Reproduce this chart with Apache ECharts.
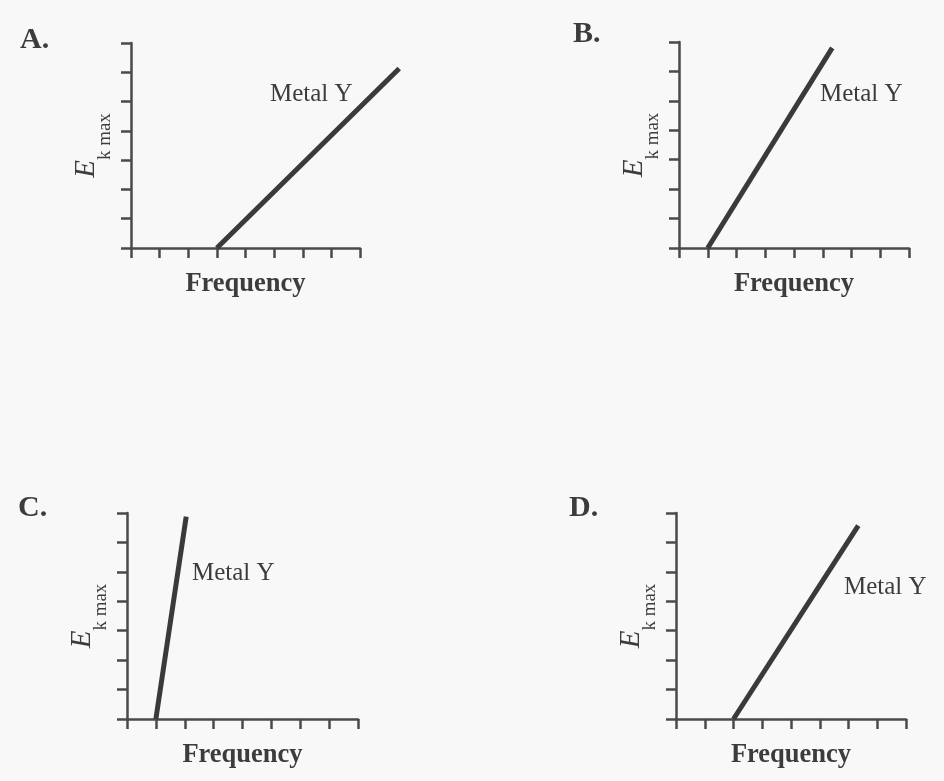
<!DOCTYPE html>
<html><head><meta charset="utf-8">
<script src="https://cdn.jsdelivr.net/npm/echarts@6/dist/echarts.min.js"></script>
<style>html,body{margin:0;padding:0;background:#f8f8f8}#c{width:944px;height:781px}</style>
</head><body><div id="c"></div>
<script>
// ---- data ----
const panelLabels = ['A.', 'B.', 'C.', 'D.'];
const seriesName = 'Metal Y';
const xAxisName = 'Frequency';
const yAxisMain = 'E';
const yAxisSub = 'k max';
const xMax = 8;   // 8 tick intervals on the frequency axis
const yMax = 7;   // 7 tick intervals on the E axis
// line end points: [frequency, Ek max]
const freqA = [3, 9.37], ekA = [0, 6.13];
const freqB = [1, 5.33], ekB = [0, 6.80];
const freqC = [1, 2.05], ekC = [0, 6.88];
const freqD = [2, 6.34], ekD = [0, 6.57];

const panelsFreq = [freqA, freqB, freqC, freqD];
const panelsEk = [ekA, ekB, ekC, ekD];

// ---- layout / style ----
const grids = [
  {left: 131, top: 43, width: 229, height: 205},
  {left: 679, top: 42, width: 230, height: 206},
  {left: 127, top: 513, width: 231, height: 206},
  {left: 676, top: 513, width: 230, height: 206}
];
grids.forEach(g => { g.outerBoundsMode = 'none'; g.containLabel = false; });
// a plotted line may run past the last frequency tick (panel A),
// so each line lives on a hidden twin grid with the same scale but a longer x range
const extMaxes = panelsFreq.map(f => Math.max(xMax, Math.ceil(Math.max(...f))));
const lineGrids = grids.map((g, i) => ({
  left: g.left, top: g.top, height: g.height, width: g.width * extMaxes[i] / xMax,
  outerBoundsMode: 'none', containLabel: false
}));

const labelPos = [[270, 94], [820, 94], [192, 573], [844, 587]];
const letterPos = [[20, 40], [573, 34], [18, 508], [569, 508]];
const ink = '#3c3c3c';
const axisInk = '#4a4a4a';
const serif = '"Liberation Serif", "DejaVu Serif", serif';

const chart = echarts.init(document.getElementById('c'), null, {renderer: 'canvas'});

const xAxes = grids.map((g, i) => ({
  gridIndex: i, type: 'value', min: 0, max: xMax, interval: 1,
  axisLine: {show: true, onZero: false, lineStyle: {color: axisInk, width: 2.5}},
  axisTick: {show: true, inside: false, length: 10, lineStyle: {color: axisInk, width: 2.5}},
  axisLabel: {show: false}, splitLine: {show: false},
  name: xAxisName, nameLocation: 'middle', nameGap: 23,
  nameTextStyle: {fontFamily: serif, fontWeight: 'bold', fontSize: 26.5, color: ink}
}));
const yAxes = grids.map((g, i) => ({
  gridIndex: i, type: 'value', min: 0, max: yMax, interval: 1,
  axisLine: {show: true, onZero: false, lineStyle: {color: axisInk, width: 2.5}},
  axisTick: {show: true, inside: false, length: 10, lineStyle: {color: axisInk, width: 2.5}},
  axisLabel: {show: false}, splitLine: {show: false},
  name: '{e|' + yAxisMain + '}{s|' + yAxisSub + '}', nameLocation: 'middle', nameRotate: 90, nameGap: -8,
  nameTextStyle: {
    color: ink,
    rich: {
      e: {fontFamily: serif, fontStyle: 'italic', fontSize: 29, lineHeight: 29, color: ink, verticalAlign: 'top'},
      s: {fontFamily: serif, fontSize: 19, lineHeight: 67, color: ink, verticalAlign: 'middle'}
    }
  }
}));
// hidden twin axes for the lines
lineGrids.forEach((g, i) => {
  xAxes.push({gridIndex: 4 + i, type: 'value', min: 0, max: extMaxes[i], show: false});
  yAxes.push({gridIndex: 4 + i, type: 'value', min: 0, max: yMax, show: false});
});
const series = grids.map((g, i) => ({
  type: 'line', name: seriesName, xAxisIndex: 4 + i, yAxisIndex: 4 + i,
  data: panelsFreq[i].map((f, k) => [f, panelsEk[i][k]]),
  symbol: 'none', clip: false, silent: true,
  lineStyle: {color: '#3a3a3a', width: 5, cap: 'butt'}
}));
const graphics = [];
labelPos.forEach((p, i) => graphics.push({
  type: 'text', x: p[0], y: p[1], silent: true,
  style: {text: seriesName, fontFamily: serif, fontSize: 25, fill: ink, verticalAlign: 'middle', align: 'left'}
}));
letterPos.forEach((p, i) => graphics.push({
  type: 'text', x: p[0], y: p[1], silent: true,
  style: {text: panelLabels[i], fontFamily: serif, fontWeight: 'bold', fontSize: 30, fill: ink, verticalAlign: 'middle', align: 'left'}
}));

chart.setOption({
  backgroundColor: '#f8f8f8',
  animation: false,
  grid: grids.concat(lineGrids),
  xAxis: xAxes,
  yAxis: yAxes,
  series: series,
  graphic: graphics
});
</script>
</body></html>
